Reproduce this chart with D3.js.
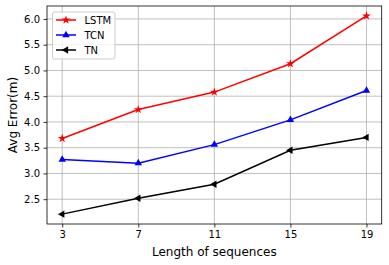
<!DOCTYPE html>
<html>
<head>
<meta charset="utf-8">
<script src="https://d3js.org/d3.v7.min.js"></script>
<style>
  body { margin: 0; background: #fff; }
  text { font-family: "DejaVu Sans", sans-serif; fill: #000; }
</style>
</head>
<body>
<svg width="389" height="265"></svg>
<script>
// data
const seqLengths = [3, 7, 11, 15, 19]
const lstmErr = [3.68, 4.24, 4.58, 5.13, 6.06]
const tcnErr = [3.27, 3.20, 3.56, 4.04, 4.61]
const tnErr = [2.21, 2.52, 2.79, 3.45, 3.70]
const yTicks = [2.5, 3.0, 3.5, 4.0, 4.5, 5.0, 5.5, 6.0]

const series = [
  { name: "LSTM", values: lstmErr, color: "red", marker: "star" },
  { name: "TCN", values: tcnErr, color: "blue", marker: "up" },
  { name: "TN", values: tnErr, color: "black", marker: "left" }
]

const svg = d3.select("svg")
const margin = { top: 6, left: 47, right: 7.3, bottom: 41 }
const width = +svg.attr("width")
const height = +svg.attr("height")

const x = d3.scaleLinear().domain([2.2, 19.8]).range([margin.left, width - margin.right])
const y = d3.scaleLinear().domain([2.0185, 6.2515]).range([height - margin.bottom, margin.top])

// grid
svg.append("g").selectAll("line").data(seqLengths).join("line")
  .attr("x1", d => x(d)).attr("x2", d => x(d))
  .attr("y1", margin.top).attr("y2", height - margin.bottom)
  .attr("stroke", "#b0b0b0").attr("stroke-width", 0.8)
svg.append("g").selectAll("line").data(yTicks).join("line")
  .attr("x1", margin.left).attr("x2", width - margin.right)
  .attr("y1", d => y(d)).attr("y2", d => y(d))
  .attr("stroke", "#b0b0b0").attr("stroke-width", 0.8)

// axes
const xAxis = d3.axisBottom(x).tickValues(seqLengths).tickSize(3.5).tickPadding(3.5)
const yAxis = d3.axisLeft(y).tickValues(yTicks).tickFormat(d3.format(".1f")).tickSize(3.5).tickPadding(3.5)
const gx = svg.append("g").attr("transform", `translate(0,${height - margin.bottom})`).call(xAxis)
const gy = svg.append("g").attr("transform", `translate(${margin.left},0)`).call(yAxis)
gx.select(".domain").remove()
gy.select(".domain").remove()
svg.selectAll(".tick text").attr("font-size", 10).style("font-family", "DejaVu Sans")
svg.selectAll(".tick line").attr("stroke", "#000").attr("stroke-width", 0.8)

const symbolFor = m => {
  if (m == "star") return d3.symbol(d3.symbolStar, 24)()
  return d3.symbol(d3.symbolTriangle, 24)()
}
const rotFor = m => m == "left" ? -90 : 0

const line = d3.line().x((d, i) => x(seqLengths[i])).y(d => y(d))

series.forEach(s => {
  svg.append("path").datum(s.values)
    .attr("d", line).attr("fill", "none")
    .attr("stroke", s.color).attr("stroke-width", 1.5)
  svg.append("g").selectAll("path").data(s.values).join("path")
    .attr("d", symbolFor(s.marker))
    .attr("transform", (d, i) => `translate(${x(seqLengths[i])},${y(d)}) rotate(${rotFor(s.marker)})`)
    .attr("fill", s.color)
})

// frame
svg.append("rect")
  .attr("x", margin.left).attr("y", margin.top)
  .attr("width", width - margin.left - margin.right)
  .attr("height", height - margin.top - margin.bottom)
  .attr("fill", "none").attr("stroke", "#000").attr("stroke-width", 0.8)

// axis labels
svg.append("text")
  .attr("x", (margin.left + width - margin.right) / 2).attr("y", 256)
  .attr("text-anchor", "middle").attr("font-size", 12)
  .text("Length of sequences")
svg.append("text")
  .attr("transform", `translate(17,${(margin.top + height - margin.bottom) / 2}) rotate(-90)`)
  .attr("text-anchor", "middle").attr("font-size", 12)
  .text("Avg Error(m)")

// legend
const legend = svg.append("g").attr("transform", "translate(52.5,12)")
legend.append("rect")
  .attr("width", 62.5).attr("height", 47).attr("rx", 2)
  .attr("fill", "white").attr("fill-opacity", 0.8)
  .attr("stroke", "#cccccc")
series.forEach((s, i) => {
  const row = legend.append("g").attr("transform", `translate(0,${8 + i * 15})`)
  row.append("line").attr("x1", 3.5).attr("x2", 23.5)
    .attr("stroke", s.color).attr("stroke-width", 1.5)
  row.append("path").attr("d", symbolFor(s.marker))
    .attr("transform", `translate(13.5,0) rotate(${rotFor(s.marker)})`)
    .attr("fill", s.color)
  row.append("text").attr("x", 32).attr("y", 3.6)
    .attr("font-size", 10).text(s.name)
})
</script>
</body>
</html>
